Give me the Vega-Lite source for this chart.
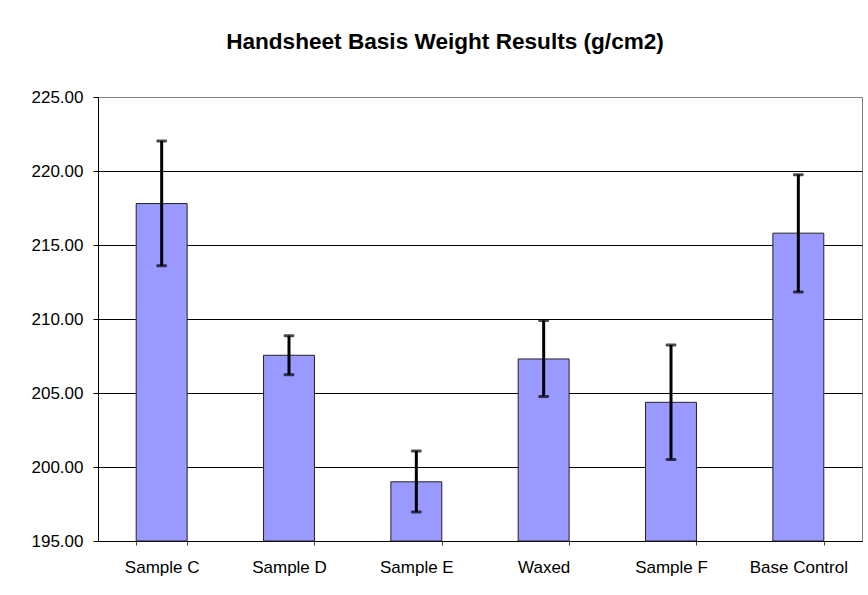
{
  "$schema": "https://vega.github.io/schema/vega-lite/v6.json",
  "autosize": {"type": "none"},
  "width": 764,
  "height": 444,
  "padding": {"left": 98, "top": 97, "right": 6, "bottom": 54},
  "background": "white",
  "config": {
    "font": "Liberation Sans",
    "view": {"stroke": "#808080", "strokeWidth": 1}
  },
  "title": {
    "text": "Handsheet Basis Weight Results (g/cm2)",
    "font": "Liberation Sans",
    "fontSize": 22.6,
    "fontWeight": "bold",
    "color": "black",
    "anchor": "middle",
    "frame": "group",
    "dx": -35,
    "baseline": "alphabetic",
    "offset": 16
  },
  "data": {
    "values": [
      {"sample": "Sample C", "weight": 217.8, "lo": 213.6, "hi": 222.03},
      {"sample": "Sample D", "weight": 207.55, "lo": 206.24, "hi": 208.87},
      {"sample": "Sample E", "weight": 199.0, "lo": 196.96, "hi": 201.08},
      {"sample": "Waxed", "weight": 207.3, "lo": 204.77, "hi": 209.9},
      {"sample": "Sample F", "weight": 204.37, "lo": 200.51, "hi": 208.24},
      {"sample": "Base Control", "weight": 215.8, "lo": 211.82, "hi": 219.75}
    ]
  },
  "encoding": {
    "x": {
      "field": "sample",
      "type": "nominal",
      "sort": null,
      "scale": {"paddingInner": 0.6, "paddingOuter": 0.3},
      "axis": {
        "title": null,
        "labelAngle": 0,
        "labelFont": "Liberation Sans",
        "labelFontSize": 17,
        "labelColor": "black",
        "labelBaseline": "alphabetic",
        "labelPadding": 27,
        "tickBand": "extent",
        "tickSize": 4,
        "tickColor": "#444444",
        "domainColor": "black",
        "grid": false
      }
    }
  },
  "layer": [
    {
      "mark": {"type": "bar", "fill": "#9999FF", "stroke": "#222222", "strokeWidth": 1},
      "encoding": {
        "y": {
          "field": "weight",
          "type": "quantitative",
          "scale": {"domain": [195, 225], "nice": false, "zero": false},
          "axis": {
            "title": null,
            "values": [195, 200, 205, 210, 215, 220, 225],
            "format": ".2f",
            "labelFont": "Liberation Sans",
            "labelFontSize": 17,
            "labelColor": "black",
            "labelPadding": 10,
            "tickSize": 5,
            "tickColor": "black",
            "domainColor": "black",
            "grid": true,
            "gridColor": {"condition": {"test": "datum.value == 225", "value": "#808080"}, "value": "black"},
            "gridOpacity": 1,
            "gridWidth": 1
          }
        },
        "y2": {"datum": 195}
      }
    },
    {
      "mark": {"type": "rule", "color": "black", "strokeWidth": 3},
      "encoding": {
        "y": {"field": "lo", "type": "quantitative"},
        "y2": {"field": "hi"}
      }
    },
    {
      "mark": {"type": "tick", "color": "black", "size": 11, "thickness": 3, "cornerRadius": 1.5},
      "encoding": {"y": {"field": "hi", "type": "quantitative"}}
    },
    {
      "mark": {"type": "tick", "color": "black", "size": 11, "thickness": 3, "cornerRadius": 1.5},
      "encoding": {"y": {"field": "lo", "type": "quantitative"}}
    }
  ]
}
